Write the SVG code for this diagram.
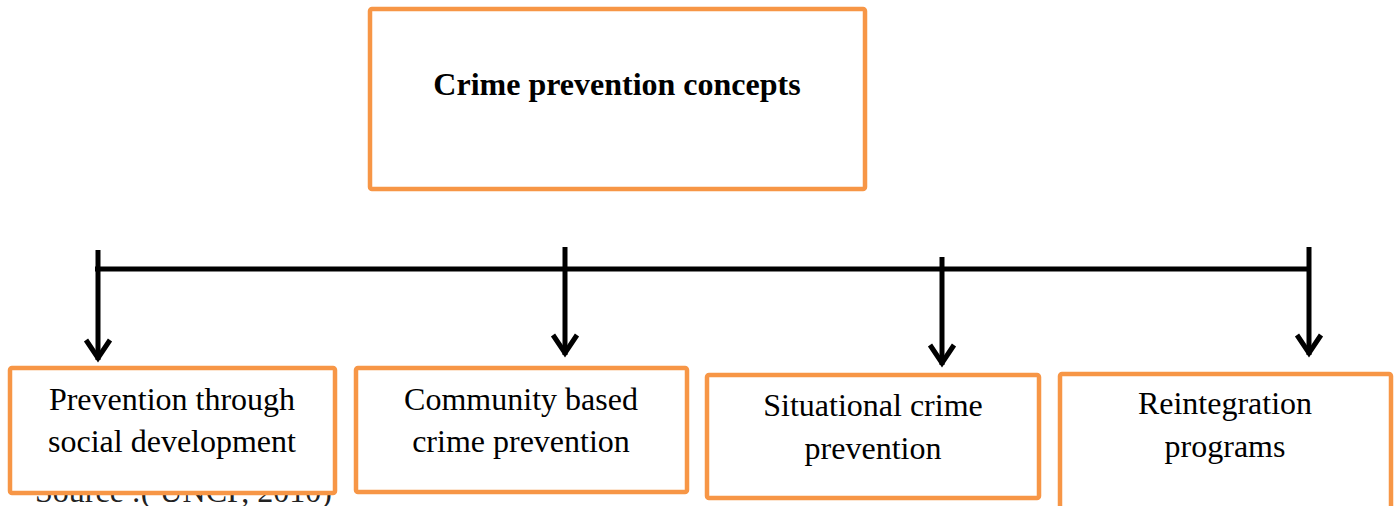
<svg xmlns="http://www.w3.org/2000/svg" width="1396" height="506" viewBox="0 0 1396 506">
<style>
.box{fill:#fff;stroke:#F79646;stroke-width:4.5}
.t{font-family:"Liberation Serif","Times New Roman",serif;font-size:32px;fill:#000;text-anchor:middle}
.b{font-weight:bold}
.ln{stroke:#000;stroke-width:5;fill:none}
.ah{stroke:#000;stroke-width:5;fill:none;stroke-linejoin:miter;stroke-linecap:butt}
</style>
<rect width="1396" height="506" fill="#fff"/>
<text x="35" y="502" font-family="Liberation Serif,serif" font-size="32" fill="#222">Source :( UNCP, 2010)</text>
<g id="root">
<rect class="box" x="370" y="9" width="495" height="180" rx="2"/>
<text class="t b" x="617" y="95">Crime prevention concepts</text>
</g>
<g id="connectors">
<line class="ln" x1="95" y1="269" x2="1311" y2="269"/>
<line class="ln" x1="98" y1="250" x2="98" y2="360"/>
<path class="ah" d="M86,340 L98,358 L110,340"/>
<line class="ln" x1="565" y1="247" x2="565" y2="355"/>
<path class="ah" d="M553,335 L565,353 L577,335"/>
<line class="ln" x1="942" y1="257" x2="942" y2="365"/>
<path class="ah" d="M930,345 L942,363 L954,345"/>
<line class="ln" x1="1309" y1="247" x2="1309" y2="355"/>
<path class="ah" d="M1297,335 L1309,353 L1321,335"/>
</g>
<g id="social">
<rect class="box" x="10" y="368" width="325" height="125" rx="2"/>
<text class="t" x="172" y="410">Prevention through</text>
<text class="t" x="172" y="452">social development</text>
</g>
<g id="community">
<rect class="box" x="356" y="368" width="331" height="124" rx="2"/>
<text class="t" x="521" y="410">Community based</text>
<text class="t" x="521" y="452">crime prevention</text>
</g>
<g id="situational">
<rect class="box" x="707" y="375" width="332" height="123" rx="2"/>
<text class="t" x="873" y="416">Situational crime</text>
<text class="t" x="873" y="459">prevention</text>
</g>
<g id="reintegration">
<rect class="box" x="1060" y="374" width="331" height="140" rx="2"/>
<text class="t" x="1225" y="414">Reintegration</text>
<text class="t" x="1225" y="457">programs</text>
</g>
</svg>
